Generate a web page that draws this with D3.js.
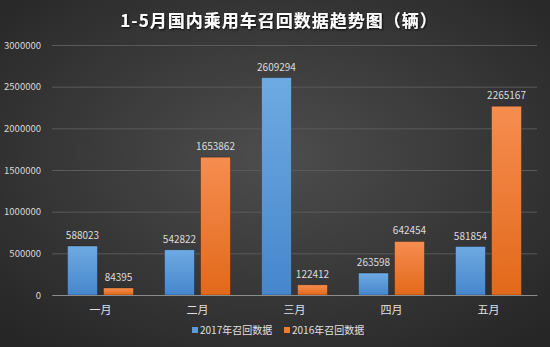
<!DOCTYPE html>
<html><head><meta charset="utf-8">
<script src="https://cdn.jsdelivr.net/npm/d3@7"></script>
<style>body{margin:0;background:#333;}svg{display:block;}</style>
</head><body>
<svg id="c" width="550" height="347"></svg>
<script>
const categories = ["一月","二月","三月","四月","五月"];
const series2017 = [588023, 542822, 2609294, 263598, 581854];
const series2016 = [84395, 1653862, 122412, 642454, 2265167];
const seriesNames = ["2017年召回数据","2016年召回数据"];
const yTicks = [0, 500000, 1000000, 1500000, 2000000, 2500000, 3000000];
const title = "1-5月国内乘用车召回数据趋势图（辆）";

const W = 550, H = 347;
const m = {l:52, r:13, t:45, b:52};
const svg = d3.select("#c");
const defs = svg.append("defs");
const rg = defs.append("radialGradient").attr("id","bg").attr("cx","50%").attr("cy","45%").attr("r","70%");
rg.append("stop").attr("offset","0%").attr("stop-color","#4d4d4d");
rg.append("stop").attr("offset","100%").attr("stop-color","#262626");
const gb = defs.append("linearGradient").attr("id","gb").attr("x1",0).attr("y1",0).attr("x2",0).attr("y2",1);
gb.append("stop").attr("offset","0%").attr("stop-color","#6eaae2");
gb.append("stop").attr("offset","100%").attr("stop-color","#4686cc");
const go = defs.append("linearGradient").attr("id","go").attr("x1",0).attr("y1",0).attr("x2",0).attr("y2",1);
go.append("stop").attr("offset","0%").attr("stop-color","#f68d50");
go.append("stop").attr("offset","100%").attr("stop-color","#e2691a");
const sh = defs.append("filter").attr("id","sh").attr("x","-10%").attr("y","-30%").attr("width","120%").attr("height","160%");
sh.append("feDropShadow").attr("dx",1).attr("dy",1).attr("stdDeviation",1).attr("flood-color","#000").attr("flood-opacity",0.8);

svg.append("rect").attr("width",W).attr("height",H).attr("fill","url(#bg)");

const x = d3.scaleBand().domain(categories).range([m.l, W-m.r]).paddingInner(0).paddingOuter(0);
const y = d3.scaleLinear().domain([0,3000000]).range([H-m.b, m.t]);
const xs = d3.scaleBand().domain([0,1]).range([0, x.bandwidth()]).paddingInner(0.167).paddingOuter(0.43);

const ff = "'Noto Sans CJK SC','Noto Sans',sans-serif";

svg.append("text").attr("x",W/2+4).attr("y",27).attr("text-anchor","middle")
  .attr("fill","#fff").attr("font-family",ff).attr("font-weight","bold").attr("font-size",17)
  .attr("letter-spacing",1).attr("filter","url(#sh)").text(title);

// gridlines
const yAxis = d3.axisLeft(y).tickValues(yTicks).tickSize(-(W-m.l-m.r)).tickPadding(10).tickFormat(d3.format("d"));
const ga = svg.append("g").attr("transform",`translate(${m.l},0)`).call(yAxis);
ga.select(".domain").remove();
ga.selectAll(".tick line").attr("stroke","#5a5a5a").attr("stroke-width",1);
ga.selectAll(".tick text").attr("fill","#d8d8d8").attr("font-family",ff).attr("font-size",9.5).attr("x",-11);

const groups = [series2017, series2016];
const fills = ["url(#gb)","url(#go)"];
groups.forEach((vals, si) => {
  svg.append("g").selectAll("rect").data(vals).join("rect")
    .attr("x",(d,i)=>x(categories[i])+xs(si))
    .attr("width",xs.bandwidth())
    .attr("y",d=>y(d))
    .attr("height",d=>y(0)-y(d))
    .attr("fill",fills[si])
    .attr("stroke","rgba(0,0,0,0.35)").attr("stroke-width",0.8);
  svg.append("g").selectAll("text").data(vals).join("text")
    .attr("x",(d,i)=>x(categories[i])+xs(si)+xs.bandwidth()/2)
    .attr("y",d=>y(d)-7)
    .attr("text-anchor","middle").attr("fill","#dcdcdc")
    .attr("font-family",ff).attr("font-size",10).text(d=>d);
});

// x axis
const xAxis = d3.axisBottom(x).tickSize(0).tickPadding(11);
const gx = svg.append("g").attr("transform",`translate(0,${y(0)})`).call(xAxis);
gx.select(".domain").attr("stroke","#8c8c8c").attr("stroke-width",1);
gx.selectAll(".tick text").attr("fill","#e0e0e0").attr("font-family",ff).attr("font-size",11);

// legend
const legColors = ["#5b9bd5","#ed7d31"];
const legX = [192, 284];
seriesNames.forEach((n,i)=>{
  svg.append("rect").attr("x",legX[i]).attr("y",327).attr("width",6).attr("height",6).attr("fill",legColors[i]);
  svg.append("text").attr("x",legX[i]+8).attr("y",334).attr("fill","#e0e0e0")
    .attr("font-family",ff).attr("font-size",10).text(n);
});
</script>
</body></html>
